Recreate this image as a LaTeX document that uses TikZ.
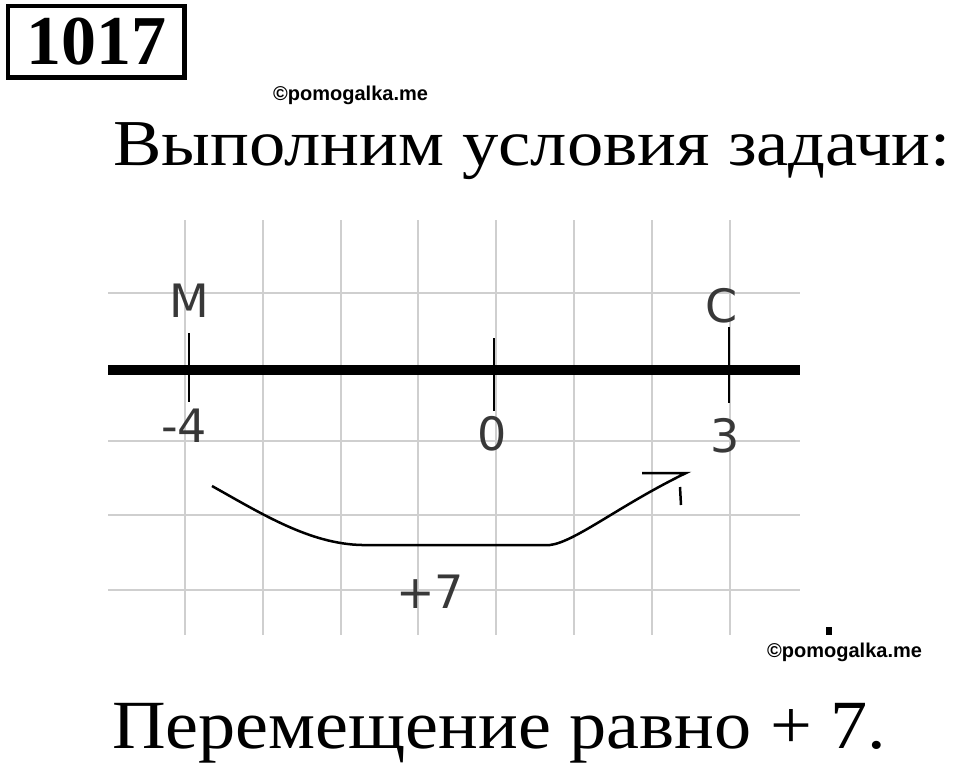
\documentclass[tikz,border=0pt]{standalone}
\usepackage{fontspec}
\setmainfont{Liberation Serif}
\newfontfamily\taskfont[FakeStretch=1.108]{Liberation Serif}
\newfontfamily\resultfont[FakeStretch=1.076]{Liberation Serif}
\newfontfamily\labelfont{DejaVu Sans}
\newfontfamily\markfont{Liberation Sans}
\begin{document}
\begin{tikzpicture}[x=1pt,y=-1pt,
    gridline/.style={draw=black!19,line width=2pt},
    tickmark/.style={line width=2.5pt},
    axislabel/.style={text=black!78,inner sep=0pt,font=\labelfont\fontsize{46}{46}\selectfont},
    watermark/.style={inner sep=0pt,anchor=base west,font=\markfont\bfseries\fontsize{20}{20}\selectfont},
    bigtext/.style={inner sep=0pt,anchor=base west}]
  \useasboundingbox (0,0) rectangle (960,763);
  \node[draw,line width=4.5pt,minimum width=176.5,minimum height=71.5,inner sep=0pt,
    font=\bfseries\fontsize{70}{70}\selectfont] (num) at (96.25,41.75) {1017};
  \node[watermark] (wm1) at (273,100) {©pomogalka.me};
  \node[bigtext,font=\taskfont\fontsize{65.5}{65.5}\selectfont] (task) at (113,165) {Выполним условия задачи:};
  % grid
  \foreach \i in {0,...,7}
    \draw[gridline] (185+77.8*\i,220) -- (185+77.8*\i,635);
  \foreach \y in {293,441,515,590}
    \draw[gridline] (108,\y) -- (800,\y);
  % axis
  \coordinate (axL) at (108,369.5);
  \coordinate (axR) at (800,369.5);
  \draw[line width=10pt] (axL) -- (axR);
  \draw
    (189,301) node[axislabel] (M){M}
    (722,306) node[axislabel] (C){C}
    (184,426) node[axislabel] (m4){-4}
    (492,434) node[axislabel] (z){0}
    (725,436) node[axislabel] (p3){3}
    (430,592) node[axislabel] (d){+7};
  \begin{scope}[tickmark]
    \draw (189,333) -- (189,402);
    \draw (494,338) -- (494,411);
    \draw (729,327) -- (729,403);
  \end{scope}
  % shift arrow
  \coordinate (from) at (212,486);
  \coordinate (tip) at (686,473);
  \draw[line width=2.5pt] (from) .. controls (262,514) and (310,544) .. (362,545)
    -- (550,545) .. controls (575,542) and (620,505) .. (tip) -- ++(-44,0);
  \draw[line width=2.5pt] (tip) ++(-6,14) -- ++(1,18);
  \fill (826,627) rectangle (832,635);
  \node[watermark] (wm2) at (767,657) {©pomogalka.me};
  \node[bigtext,font=\resultfont\fontsize{69}{69}\selectfont] (result) at (112,748) {Перемещение равно + 7.};
\end{tikzpicture}
\end{document}
